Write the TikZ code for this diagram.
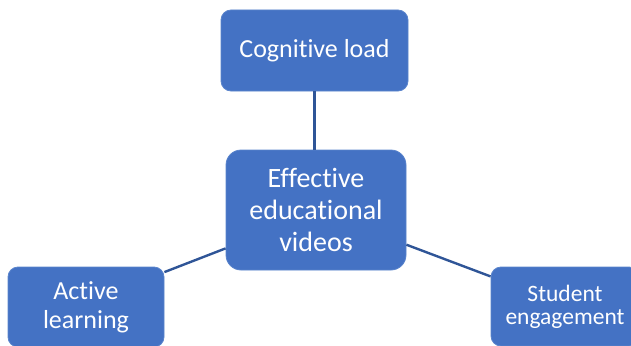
\documentclass[tikz,border=0pt]{standalone}
\usepackage{fontspec}
\setmainfont{Carlito}[Ligatures=NoCommon]
\definecolor{boxfill}{HTML}{4472C4}
\definecolor{boxedge}{HTML}{5A84CC}
\definecolor{linkcol}{HTML}{2F5597}
\begin{document}
\begin{tikzpicture}[x=1pt,y=-1pt,
  topic/.style={rectangle, rounded corners=10pt, fill=boxfill, draw=boxedge,
    line width=0.8pt, text=white, align=center, inner sep=0pt},
  link/.style={draw=linkcol, line width=2.4pt}]
  \useasboundingbox (0,0) rectangle (631,345);
  \clip (0,0) rectangle (631,345);
  % central topic
  \node[topic, rounded corners=15pt, minimum width=180pt, minimum height=120pt,
        font=\fontsize{28}{32}\selectfont] (ctr) at (316,210)
        {Effective\\educational\\videos};
  % surrounding topics
  \node[topic, minimum width=187pt, minimum height=81pt,
        font=\fontsize{26}{30}\selectfont] (cog) at (314.5,50.5) {Cognitive load};
  \node[topic, minimum width=156pt, minimum height=80pt,
        font=\fontsize{26}{29}\selectfont] (act) at (86,307) {Active\\learning};
  \node[topic, minimum width=148pt, minimum height=79pt,
        font=\fontsize{23.5}{23}\selectfont] (stu) at (565,306.5) {Student\\engagement};
  % connectors
  \draw[link] (cog.south) -- (cog.south |- ctr.north);
  \draw[link] (ctr.203) -- (act.24);
  \draw[link] (ctr.339) -- (stu.158);
\end{tikzpicture}
\end{document}
